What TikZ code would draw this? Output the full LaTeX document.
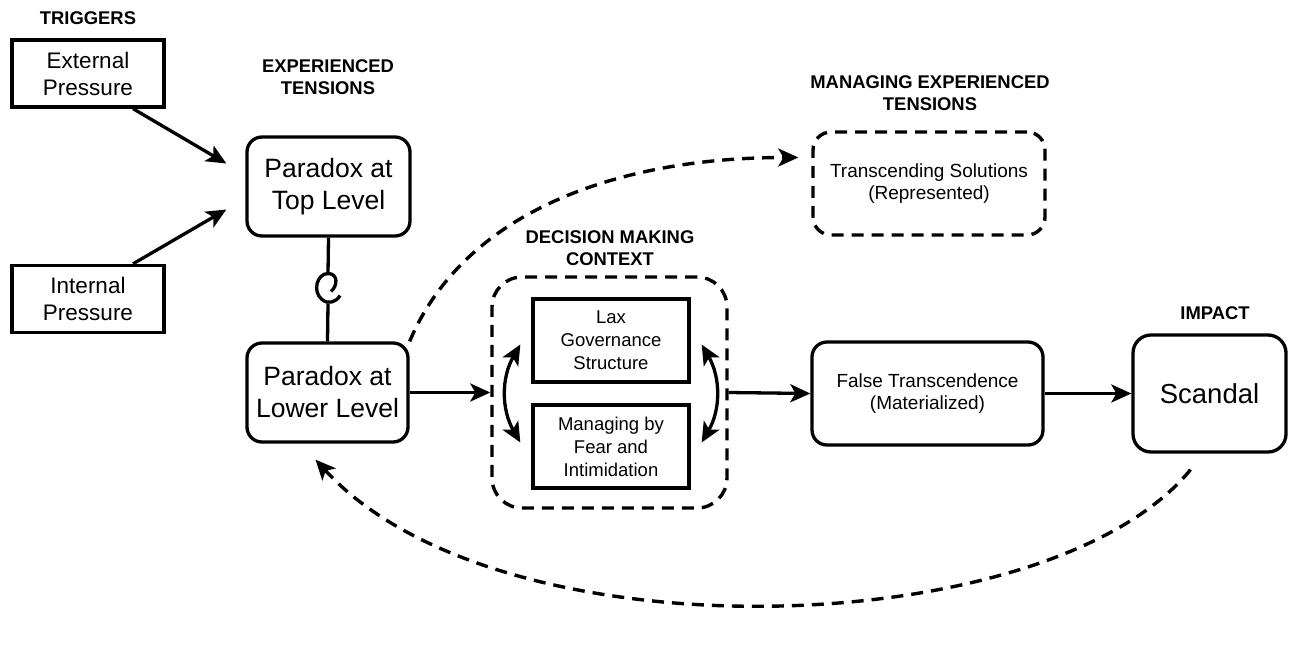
\documentclass[tikz,border=0pt]{standalone}
\usepackage{fontspec}
\setmainfont{Liberation Sans}
\usetikzlibrary{arrows.meta,calc}

\begin{document}
\begin{tikzpicture}[
  x=1pt, y=-1pt,
  line/.style={line width=3.3pt},
  arr/.style={line, ->},
  >={Stealth[length=20pt,width=18pt,inset=5pt]},
  dline/.style={line width=3.4pt, dash pattern=on 12pt off 8pt},
  head/.style={font=\fontsize{18.4}{22}\selectfont\bfseries, align=center},
  sqbox/.style={draw, line width=3.3pt, inner sep=0pt, align=center},
  rbox/.style={sqbox, rounded corners=15pt},
  dbox/.style={draw, dline, inner sep=0pt, align=center, rounded corners=18pt}
]

\useasboundingbox (0,0) rectangle (1289,645);

%================================================
% HEADINGS
%================================================
\node[head] (hTrig) at (88,18)   {TRIGGERS};
\node[head] (hExp)  at (328,77)  {EXPERIENCED\\TENSIONS};
\node[head] (hDec)  at (610,248) {DECISION MAKING\\CONTEXT};
\node[head] (hMan)  at (930,93)  {MANAGING EXPERIENCED\\TENSIONS};
\node[head] (hImp)  at (1215,313) {IMPACT};

%================================================
% TRIGGERS
%================================================
\node[sqbox, minimum width=152pt, minimum height=67pt,
  font=\fontsize{22.5}{27}\selectfont] (ext) at (88,73.5) {External\\Pressure};
\node[sqbox, minimum width=152pt, minimum height=67pt,
  font=\fontsize{22.5}{27}\selectfont] (int) at (88,299) {Internal\\Pressure};

%================================================
% EXPERIENCED TENSIONS
%================================================
\node[rbox, minimum width=163pt, minimum height=99pt,
  font=\fontsize{26.5}{32}\selectfont] (top) at (328.5,186.5) {Paradox at\\Top Level};
\node[rbox, minimum width=161pt, minimum height=99pt,
  font=\fontsize{26.5}{32}\selectfont] (lower) at (327.5,392.5) {Paradox at\\Lower Level};

\draw[arr] ([xshift=45pt]ext.south) -- ([xshift=-19pt,yshift=23pt]top.west);
\draw[arr] ([xshift=45pt]int.north) -- ([xshift=-19pt,yshift=-23pt]top.west);

% link with the curl
\coordinate (kink) at ($(top.south)!0.5!(lower.north)$);
\draw[line] (top.south) -- ($(kink)+(0,-16)$)
  .. controls ($(kink)+(10,-16)$) and ($(kink)+(10,-4)$) .. ($(kink)+(3,2)$);
\draw[line] ($(kink)+(0,-16)$)
  .. controls ($(kink)+(-11,-16)$) and ($(kink)+(-16,2)$) .. ($(kink)+(-6,10)$)
  .. controls ($(kink)+(0,15)$) and ($(kink)+(8,13)$) .. ($(kink)+(12,6)$);
\draw[line] ($(kink)+(0,14)$) -- (lower.north);

%================================================
% DECISION MAKING CONTEXT
%================================================
\node[dbox, rounded corners=30pt, minimum width=235pt, minimum height=231pt] (dmc) at (609.5,392.5) {};
\node[sqbox, minimum width=156pt, minimum height=83pt,
  font=\fontsize{18.5}{23}\selectfont] (lax) at (611,340.5) {Lax\\Governance\\Structure};
\node[sqbox, minimum width=156pt, minimum height=83pt,
  font=\fontsize{18.5}{23}\selectfont] (fear) at (611,446.5) {Managing by\\Fear and\\Intimidation};

\draw[line, <->] ([xshift=-11pt,yshift=-4pt]lax.west) to[bend right=30] ([xshift=-11pt,yshift=4pt]fear.west);
\draw[line, <->] ([xshift=11pt,yshift=-4pt]lax.east) to[bend left=30] ([xshift=11pt,yshift=4pt]fear.east);

\draw[arr] (lower.east) -- (dmc.west);

%================================================
% MANAGING / OUTCOMES
%================================================
\node[dbox, minimum width=232pt, minimum height=103pt,
  font=\fontsize{19}{22}\selectfont] (trans) at (929,183.5) {Transcending Solutions\\(Represented)};
\node[rbox, minimum width=231pt, minimum height=103pt,
  font=\fontsize{19}{22}\selectfont] (ft) at (927.5,393.5) {False Transcendence\\(Materialized)};
\node[rbox, rounded corners=18pt, minimum width=153pt, minimum height=117pt,
  font=\fontsize{27.5}{32}\selectfont] (scandal) at (1209.5,393.5) {Scandal};

\draw[arr] (dmc.east) -- (ft.west);
\draw[arr] (ft.east) -- (scandal.west);

% dashed feedback arcs
\draw[dline, ->] (lower.north east)
  .. controls +(55,-130) and +(-180,0) .. ([xshift=-13pt,yshift=26pt]trans.west);
\draw[dline, ->] ([xshift=-19pt,yshift=-16pt]scandal.south)
  .. controls +(-140,172) and +(185,202) .. ([xshift=-12pt,yshift=-16pt]lower.south);

\end{tikzpicture}
\end{document}
